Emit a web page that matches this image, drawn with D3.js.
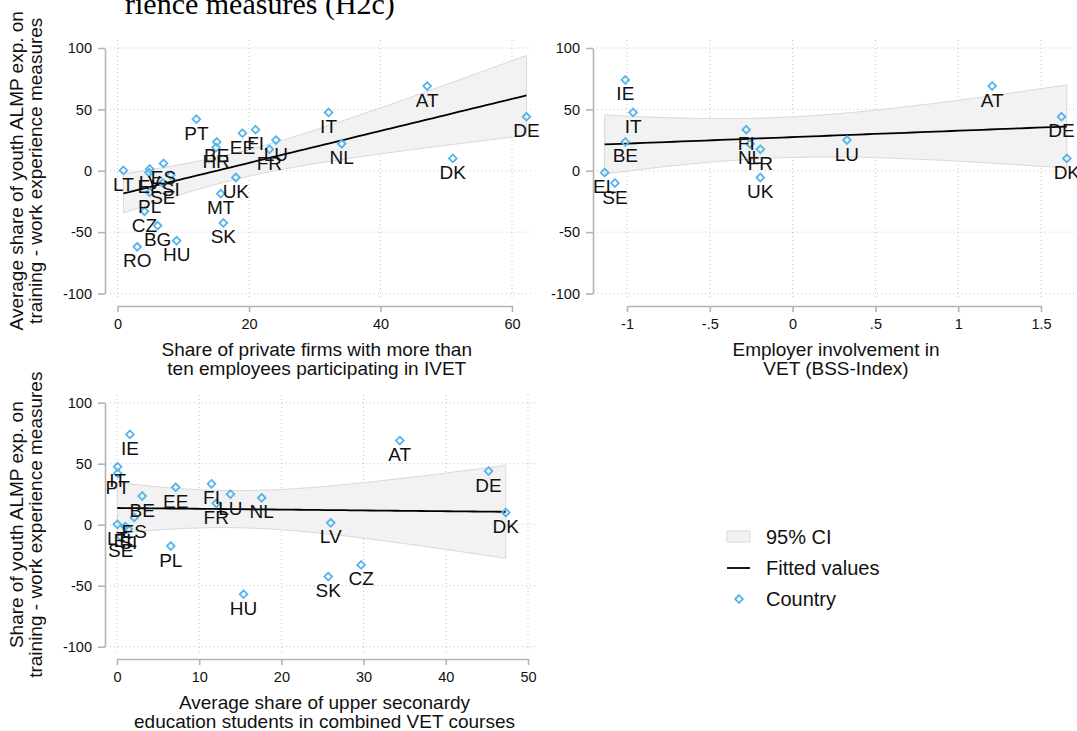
<!DOCTYPE html>
<meta charset="utf-8">
<style>
body{margin:0;background:#fff;}
svg{display:block;font-family:"Liberation Sans",Arial,Helvetica,sans-serif;}
.grid line{stroke:#c6c6c6;stroke-width:1;stroke-dasharray:1,3;}
.axis path.domain,.axis line{stroke:#b4b4b4;stroke-width:1.6;}
.axis text{font-size:14.5px;fill:#111;}
.lab{font-size:19px;fill:#111;}
.ttl{font-size:19px;fill:#111;}
.ci{fill:#f2f2f2;stroke:#d9d9d9;stroke-width:1;}
.fit{fill:none;stroke:#000;stroke-width:1.8;}
.pt{fill:none;stroke:#56b4e9;stroke-width:1.8;}
</style>
<svg width="1077" height="731"></svg>
<script src="https://d3js.org/d3.v7.min.js"></script>
<script>
// outcome: share of youth ALMP spending on training / work experience
var countries = ["AT","BE","BG","CZ","DE","DK","EE","EL","ES","FI","FR","HR","HU","IE","IT","LT","LU","LV","MT","NL","PL","PT","RO","SE","SI","SK","UK"];
var almpShare = [69, 23.5, -44.7, -33, 44, 10, 30.6, -1.5, 6, 33.5, 17.5, 19, -57, 74, 47.5, 0.3, 25, 1.5, -18.7, 22, -17.5, 42, -62, -10, -3.5, -42.5, -5.5];

// predictors (null = country not in that panel)
var ivetShare = [47.1, 15.1, 6.1, 4.1, 62.2, 51.0, 19.0, 4.8, 7.0, 21.0, 23.1, 15.0, 9.0, null, 32.1, 0.9, 24.1, 4.9, 15.7, 34.1, 4.9, 12.0, 3.0, 6.9, 8.1, 16.1, 18.0];
var bssIndex = [1.205, -1.01, null, null, 1.624, 1.656, null, -1.135, null, -0.28, -0.195, null, null, -1.01, -0.963, null, 0.328, null, null, -0.257, null, null, null, -1.073, null, null, -0.195];
var combinedVet = [34.4, 3.07, null, 29.7, 45.2, 47.3, 7.14, 1.0, 2.1, 11.5, 12.07, null, 15.4, 1.57, 0.08, 0.04, 13.8, 26.0, null, 17.6, 6.54, 0.08, null, 0.45, 1.37, 25.7, null];

var yTicks = [-100, -50, 0, 50, 100];
var ivetTicks = [0, 20, 40, 60];
var bssTicks = [-1, -0.5, 0, 0.5, 1, 1.5];
var vetTicks = [0, 10, 20, 30, 40, 50];

var svg = d3.select("svg");

// stata style: plain hyphen, no leading zero
function fmt(v){ return String(v).replace(/^(-?)0\./, "$1."); }

// linear fit with 95% CI like lfitci
function fitci(xs, ys){
  var n = xs.length, xb = d3.mean(xs), yb = d3.mean(ys), sxx = 0, sxy = 0;
  xs.forEach(function(x, i){ sxx += (x-xb)*(x-xb); sxy += (x-xb)*(ys[i]-yb); });
  var b = sxy/sxx, a = yb - b*xb, ss = 0;
  xs.forEach(function(x, i){ var r = ys[i]-a-b*x; ss += r*r; });
  var s2 = ss/(n-2), df = n-2, z = 1.959964;
  var t = z + (z*z*z+z)/(4*df) + (5*Math.pow(z,5)+16*z*z*z+3*z)/(96*df*df);
  var lo = d3.min(xs), hi = d3.max(xs);
  return d3.range(0, 61).map(function(k){
    var x = lo + (hi-lo)*k/60, yh = a + b*x;
    var se = Math.sqrt(s2*(1/n + (x-xb)*(x-xb)/sxx));
    return {x: x, y: yh, lo: yh - t*se, hi: yh + t*se};
  });
}

var panels = [
  {xs: ivetShare, dom: [0, 60], ticks: ivetTicks, xr: [117.5, 512], yr: [293.5, 48], ax: 105, ay: 306, box: [110, 533, 40, 300],
   xt: ["Share of private firms with more than", "ten employees participating in IVET"],
   yt: ["Average share of youth ALMP exp. on", "training - work experience measures"]},
  {xs: bssIndex, dom: [-1, 1.5], ticks: bssTicks, xr: [627, 1041], yr: [293.5, 48], ax: 593, ay: 306, box: [597, 1077, 40, 300],
   xt: ["Employer involvement in", "VET (BSS-Index)"], yt: null},
  {xs: combinedVet, dom: [0, 50], ticks: vetTicks, xr: [117, 528], yr: [646.7, 402.7], ax: 105, ay: 659, box: [110, 535, 395, 653],
   xt: ["Average share of upper seconardy", "education students in combined VET courses"],
   yt: ["Share of youth ALMP exp. on", "training - work experience measures"]}
];

var diamond = d3.symbol().type(d3.symbolDiamond2).size(38);

panels.forEach(function(p){
  var x = d3.scaleLinear().domain(p.dom).range(p.xr);
  var y = d3.scaleLinear().domain([-100, 100]).range(p.yr);
  var pts = [];
  countries.forEach(function(c, i){
    if (p.xs[i] != null) pts.push({c: c, x: p.xs[i], y: almpShare[i]});
  });

  var g = svg.append("g");
  var grid = g.append("g").attr("class", "grid");
  grid.selectAll(".gx").data(p.ticks).enter().append("line")
    .attr("x1", d => x(d)).attr("x2", d => x(d)).attr("y1", p.box[2]).attr("y2", p.box[3]);
  grid.selectAll(".gy").data(yTicks).enter().append("line")
    .attr("y1", d => y(d)).attr("y2", d => y(d)).attr("x1", p.box[0]).attr("x2", p.box[1]);

  var fit = fitci(pts.map(d => d.x), pts.map(d => d.y));
  g.append("path").attr("class", "ci").datum(fit)
    .attr("d", d3.area().x(d => x(d.x)).y0(d => y(d.lo)).y1(d => y(d.hi)));
  g.append("path").attr("class", "fit").datum(fit)
    .attr("d", d3.line().x(d => x(d.x)).y(d => y(d.y)));

  g.append("g").attr("class", "axis").attr("transform", "translate(" + p.ax + ",0)")
    .call(d3.axisLeft(y).tickValues(yTicks).tickFormat(fmt).tickSize(7).tickSizeOuter(0).tickPadding(6))
    .attr("font-size", null).attr("font-family", null);
  g.append("g").attr("class", "axis").attr("transform", "translate(0," + p.ay + ")")
    .call(d3.axisBottom(x).tickValues(p.ticks).tickFormat(fmt).tickSize(6).tickSizeOuter(0).tickPadding(7))
    .attr("font-size", null).attr("font-family", null);

  g.selectAll(".pt").data(pts).enter().append("path").attr("class", "pt")
    .attr("d", diamond).attr("transform", d => "translate(" + x(d.x) + "," + y(d.y) + ")");
  g.selectAll(".lab").data(pts).enter().append("text").attr("class", "lab")
    .attr("x", d => x(d.x)).attr("y", d => y(d.y) + 20.5).attr("text-anchor", "middle").text(d => d.c);

  var cx = (p.xr[0] + p.xr[1]) / 2 + 2;
  p.xt.forEach(function(t, i){
    g.append("text").attr("class", "ttl").attr("x", cx).attr("y", p.ay + 50 + i*19)
      .attr("text-anchor", "middle").text(t);
  });
  if (p.yt) {
    var cy = (p.yr[0] + p.yr[1]) / 2;
    p.yt.forEach(function(t, i){
      g.append("text").attr("class", "ttl").attr("text-anchor", "middle")
        .attr("transform", "translate(" + (23 + i*18.5) + "," + cy + ") rotate(-90)").text(t);
    });
  }
});

// title (only its last line shows at the top edge)
svg.append("text").attr("x", 125).attr("y", 13.5)
  .style("font-family", "'Liberation Serif','DejaVu Serif',serif").style("font-size", "30px")
  .text("rience measures (H2c)");

// legend
var leg = svg.append("g");
leg.append("rect").attr("class", "ci").attr("x", 727).attr("y", 531).attr("width", 23).attr("height", 11);
leg.append("line").attr("x1", 727).attr("x2", 750).attr("y1", 568).attr("y2", 568).attr("stroke", "#000").attr("stroke-width", 1.8);
leg.append("path").attr("class", "pt").attr("d", diamond).attr("transform", "translate(739,599)");
["95% CI", "Fitted values", "Country"].forEach(function(t, i){
  leg.append("text").attr("x", 766).attr("y", 544 + i*31).style("font-size", "20px").attr("fill", "#111").text(t);
});
</script>
